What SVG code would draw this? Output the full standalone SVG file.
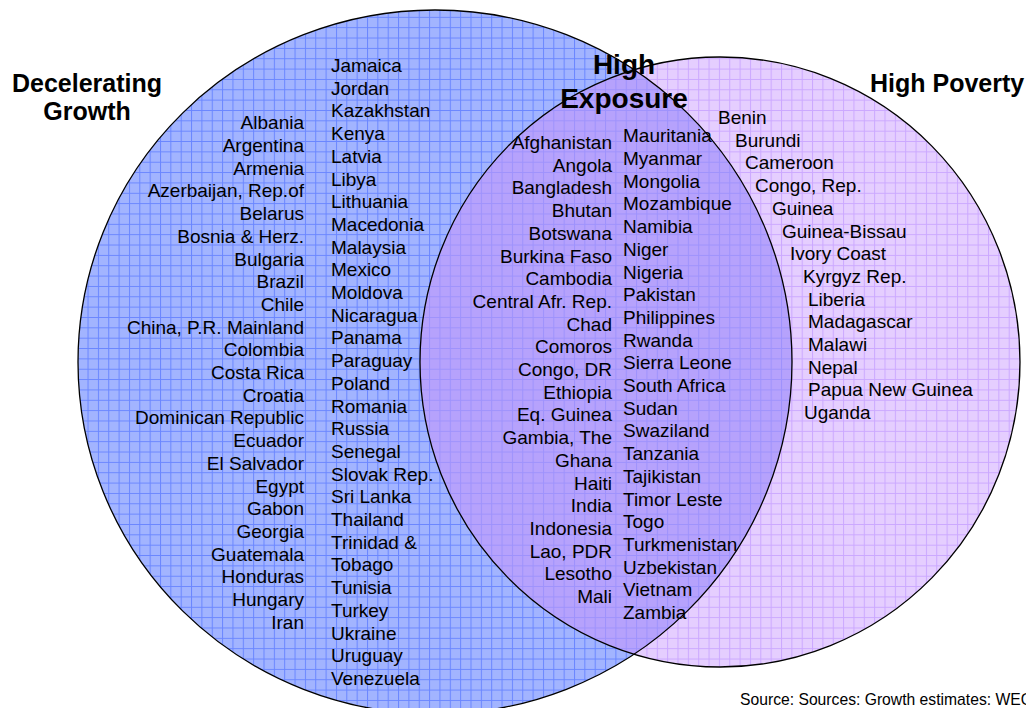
<svg xmlns="http://www.w3.org/2000/svg" width="1026" height="708" viewBox="0 0 1026 708">
<style>
.t{font-family:"Liberation Sans",Arial,sans-serif;font-size:19px;fill:#000}
.r{text-anchor:end}
.h{font-family:"Liberation Sans",Arial,sans-serif;font-weight:bold;font-size:25px;fill:#000}
.hx{font-family:"Liberation Sans",Arial,sans-serif;font-weight:bold;font-size:28px;fill:#000;text-anchor:middle}
.src{font-family:"Liberation Sans",Arial,sans-serif;font-size:15.7px;fill:#000}
.edge{fill:none;stroke:#000;stroke-width:1.3}
</style>
<defs>
<pattern id="pb" patternUnits="userSpaceOnUse" x="4.75" y="6.5" width="10.35" height="10.35">
<rect width="10.35" height="10.35" fill="#A2B4FF"/>
<path d="M0.5 0V10.35M0 0.5H10.35" stroke="#6A86FF" stroke-width="1"/>
</pattern>
<pattern id="pp" patternUnits="userSpaceOnUse" x="4.75" y="6.5" width="10.35" height="10.35">
<rect width="10.35" height="10.35" fill="#E5CEFF"/>
<path d="M0.5 0V10.35M0 0.5H10.35" stroke="#CBA8FF" stroke-width="1"/>
</pattern>
<pattern id="po" patternUnits="userSpaceOnUse" x="4.75" y="6.5" width="10.35" height="10.35">
<rect width="10.35" height="10.35" fill="#B6A2FC"/>
<path d="M0.5 0V10.35M0 0.5H10.35" stroke="#9E92FC" stroke-width="1"/>
</pattern>
<clipPath id="cp"><ellipse cx="720" cy="362" rx="300" ry="305"/></clipPath>
</defs>

<g id="decelerating-growth">
<ellipse cx="435" cy="362" rx="357" ry="352" fill="url(#pb)"/>
</g>
<g id="high-poverty">
<ellipse cx="720" cy="362" rx="300" ry="305" fill="url(#pp)"/>
</g>
<g id="high-exposure">
<ellipse cx="435" cy="362" rx="357" ry="352" fill="url(#po)" clip-path="url(#cp)"/>
</g>
<g id="outlines">
<ellipse class="edge" cx="435" cy="362" rx="357" ry="352"/>
<ellipse class="edge" cx="720" cy="362" rx="300" ry="305"/>
</g>

<g id="labels">
<text class="h" text-anchor="middle" x="87" y="92">Decelerating</text>
<text class="h" text-anchor="middle" x="87" y="120">Growth</text>
<text class="hx" x="624" y="74">High</text>
<text class="hx" x="624" y="108">Exposure</text>
<text class="h" x="870" y="92">High Poverty</text>
</g>

<g id="list-growth-a">
<text class="t r" y="129.3"><tspan x="304">Albania</tspan><tspan x="304" dy="22.7">Argentina</tspan><tspan x="304" dy="22.7">Armenia</tspan><tspan x="304" dy="22.7">Azerbaijan, Rep.of</tspan><tspan x="304" dy="22.7">Belarus</tspan><tspan x="304" dy="22.7">Bosnia &amp; Herz.</tspan><tspan x="304" dy="22.7">Bulgaria</tspan><tspan x="304" dy="22.7">Brazil</tspan><tspan x="304" dy="22.7">Chile</tspan><tspan x="304" dy="22.7">China, P.R. Mainland</tspan><tspan x="304" dy="22.7">Colombia</tspan><tspan x="304" dy="22.7">Costa Rica</tspan><tspan x="304" dy="22.7">Croatia</tspan><tspan x="304" dy="22.7">Dominican Republic</tspan><tspan x="304" dy="22.7">Ecuador</tspan><tspan x="304" dy="22.7">El Salvador</tspan><tspan x="304" dy="22.7">Egypt</tspan><tspan x="304" dy="22.7">Gabon</tspan><tspan x="304" dy="22.7">Georgia</tspan><tspan x="304" dy="22.7">Guatemala</tspan><tspan x="304" dy="22.7">Honduras</tspan><tspan x="304" dy="22.7">Hungary</tspan><tspan x="304" dy="22.7">Iran</tspan></text>
</g>

<g id="list-growth-b">
<text class="t" y="72"><tspan x="331">Jamaica</tspan><tspan x="331" dy="22.7">Jordan</tspan><tspan x="331" dy="22.7">Kazakhstan</tspan><tspan x="331" dy="22.7">Kenya</tspan><tspan x="331" dy="22.7">Latvia</tspan><tspan x="331" dy="22.7">Libya</tspan><tspan x="331" dy="22.7">Lithuania</tspan><tspan x="331" dy="22.7">Macedonia</tspan><tspan x="331" dy="22.7">Malaysia</tspan><tspan x="331" dy="22.7">Mexico</tspan><tspan x="331" dy="22.7">Moldova</tspan><tspan x="331" dy="22.7">Nicaragua</tspan><tspan x="331" dy="22.7">Panama</tspan><tspan x="331" dy="22.7">Paraguay</tspan><tspan x="331" dy="22.7">Poland</tspan><tspan x="331" dy="22.7">Romania</tspan><tspan x="331" dy="22.7">Russia</tspan><tspan x="331" dy="22.7">Senegal</tspan><tspan x="331" dy="22.7">Slovak Rep.</tspan><tspan x="331" dy="22.7">Sri Lanka</tspan><tspan x="331" dy="22.7">Thailand</tspan><tspan x="331" dy="22.7">Trinidad &amp;</tspan><tspan x="331" dy="22.7">Tobago</tspan><tspan x="331" dy="22.7">Tunisia</tspan><tspan x="331" dy="22.7">Turkey</tspan><tspan x="331" dy="22.7">Ukraine</tspan><tspan x="331" dy="22.7">Uruguay</tspan><tspan x="331" dy="22.7">Venezuela</tspan></text>
</g>

<g id="list-exposure-a">
<text class="t r" y="149"><tspan x="612">Afghanistan</tspan><tspan x="612" dy="22.7">Angola</tspan><tspan x="612" dy="22.7">Bangladesh</tspan><tspan x="612" dy="22.7">Bhutan</tspan><tspan x="612" dy="22.7">Botswana</tspan><tspan x="612" dy="22.7">Burkina Faso</tspan><tspan x="612" dy="22.7">Cambodia</tspan><tspan x="612" dy="22.7">Central Afr. Rep.</tspan><tspan x="612" dy="22.7">Chad</tspan><tspan x="612" dy="22.7">Comoros</tspan><tspan x="612" dy="22.7">Congo, DR</tspan><tspan x="612" dy="22.7">Ethiopia</tspan><tspan x="612" dy="22.7">Eq. Guinea</tspan><tspan x="612" dy="22.7">Gambia, The</tspan><tspan x="612" dy="22.7">Ghana</tspan><tspan x="612" dy="22.7">Haiti</tspan><tspan x="612" dy="22.7">India</tspan><tspan x="612" dy="22.7">Indonesia</tspan><tspan x="612" dy="22.7">Lao, PDR</tspan><tspan x="612" dy="22.7">Lesotho</tspan><tspan x="612" dy="22.7">Mali</tspan></text>
</g>

<g id="list-exposure-b">
<text class="t" y="142.3"><tspan x="623">Mauritania</tspan><tspan x="623" dy="22.7">Myanmar</tspan><tspan x="623" dy="22.7">Mongolia</tspan><tspan x="623" dy="22.7">Mozambique</tspan><tspan x="623" dy="22.7">Namibia</tspan><tspan x="623" dy="22.7">Niger</tspan><tspan x="623" dy="22.7">Nigeria</tspan><tspan x="623" dy="22.7">Pakistan</tspan><tspan x="623" dy="22.7">Philippines</tspan><tspan x="623" dy="22.7">Rwanda</tspan><tspan x="623" dy="22.7">Sierra Leone</tspan><tspan x="623" dy="22.7">South Africa</tspan><tspan x="623" dy="22.7">Sudan</tspan><tspan x="623" dy="22.7">Swaziland</tspan><tspan x="623" dy="22.7">Tanzania</tspan><tspan x="623" dy="22.7">Tajikistan</tspan><tspan x="623" dy="22.7">Timor Leste</tspan><tspan x="623" dy="22.7">Togo</tspan><tspan x="623" dy="22.7">Turkmenistan</tspan><tspan x="623" dy="22.7">Uzbekistan</tspan><tspan x="623" dy="22.7">Vietnam</tspan><tspan x="623" dy="22.7">Zambia</tspan></text>
</g>

<g id="list-poverty">
<text class="t" y="124"><tspan x="718">Benin</tspan><tspan x="735" dy="22.7">Burundi</tspan><tspan x="745" dy="22.7">Cameroon</tspan><tspan x="755" dy="22.7">Congo, Rep.</tspan><tspan x="772" dy="22.7">Guinea</tspan><tspan x="782" dy="22.7">Guinea-Bissau</tspan><tspan x="790" dy="22.7">Ivory Coast</tspan><tspan x="803" dy="22.7">Kyrgyz Rep.</tspan><tspan x="808" dy="22.7">Liberia</tspan><tspan x="808" dy="22.7">Madagascar</tspan><tspan x="808" dy="22.7">Malawi</tspan><tspan x="808" dy="22.7">Nepal</tspan><tspan x="808" dy="22.7">Papua New Guinea</tspan><tspan x="804" dy="22.7">Uganda</tspan></text>
</g>

<text class="src" x="740" y="705">Source: Sources: Growth estimates: WEO</text>
</svg>
